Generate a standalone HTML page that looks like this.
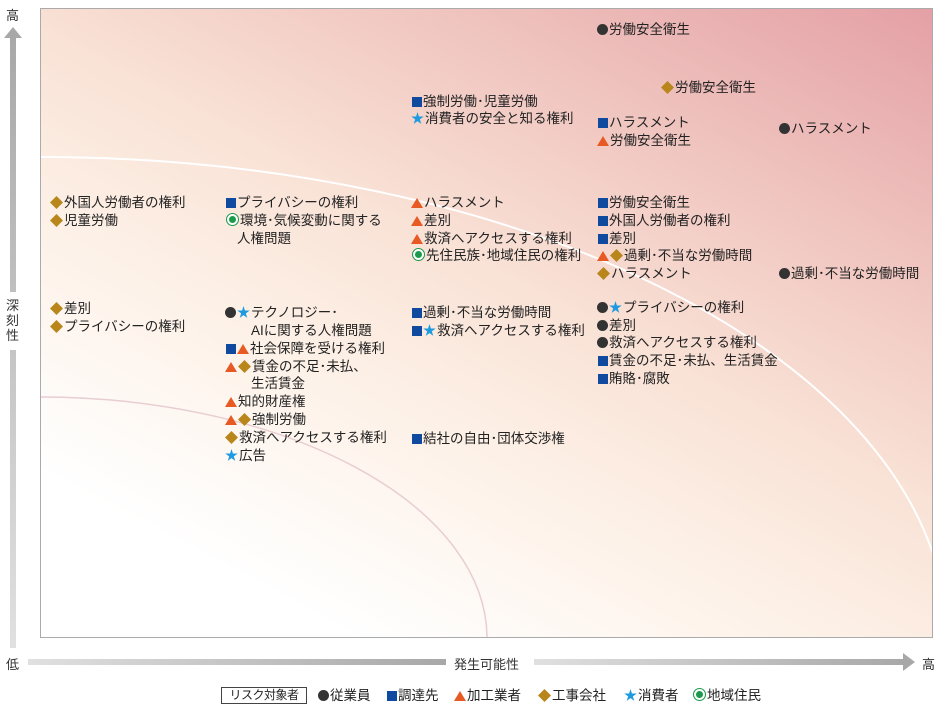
<!DOCTYPE html>
<html style="overflow:hidden;height:709px"><head><meta charset="utf-8"><style>
html,body{overflow:hidden}
body{margin:0;width:940px;height:709px;background:#fff;position:relative;font-family:"Liberation Sans","Noto Sans CJK JP",sans-serif;color:#222}
.t{position:absolute;font-size:13.5px;line-height:17px;white-space:nowrap;letter-spacing:0}
i{display:inline-block;vertical-align:-1px;margin-right:1px;font-style:normal}
.c{width:11px;height:11px;border-radius:50%;background:#333}
.s{width:10px;height:10px;background:#0f4a9e;margin-left:1px}
.r{width:12px;height:10px;background:#e85a24;clip-path:polygon(50% 0,100% 100%,0 100%)}
.d{width:13px;height:13px;background:#b8861b;clip-path:polygon(50% 0,100% 50%,50% 100%,0 50%);vertical-align:-2px}
.g{width:7px;height:7px;border-radius:50%;background:#1a9a4a;border:2px solid #fff;outline:1.5px solid #1a9a4a;margin:0 2px 0 2px;vertical-align:0}
.st{width:13px;height:13px;background:#1e9be0;clip-path:polygon(50% 0,61% 35%,98% 35%,68% 57%,79% 91%,50% 70%,21% 91%,32% 57%,2% 35%,39% 35%);vertical-align:-2px}
.ax{position:absolute;font-size:13px;color:#333}
</style></head><body>
<div style="position:absolute;left:40px;top:8px;width:893px;height:630px;border:1px solid #aaa;box-sizing:border-box;background:linear-gradient(208deg,#e4a0a6 0%,#f0c6c0 25%,#f9e2d6 45%,#fdf1e7 62%,#ffffff 85%)"></div>
<svg style="position:absolute;left:0;top:0;display:block" width="940" height="700">
<defs><linearGradient id="gv" x1="0" y1="1" x2="0" y2="0"><stop offset="0" stop-color="#e0e0e0"/><stop offset="1" stop-color="#a8a8a8"/></linearGradient>
<linearGradient id="gh" x1="0" y1="0" x2="1" y2="0"><stop offset="0" stop-color="#e0e0e0"/><stop offset="1" stop-color="#a8a8a8"/></linearGradient>
<clipPath id="cp"><rect x="41" y="9" width="891" height="628"/></clipPath></defs>
<g clip-path="url(#cp)" fill="none">
<ellipse cx="40" cy="638" rx="907" ry="481" stroke="#fff" stroke-width="2"/>
<ellipse cx="40" cy="638" rx="447" ry="241" stroke="#e8cdd2" stroke-width="1.5"/>
</g>
<rect x="10" y="36" width="6" height="612" fill="url(#gv)"/>
<polygon points="4,38 13,27 22,38" fill="#a8a8a8"/>
<rect x="6" y="292" width="14" height="58" fill="#fff"/>
<rect x="28" y="659" width="418" height="6" fill="url(#gh)"/>
<rect x="534" y="659" width="370" height="6" fill="url(#gh)"/>
<polygon points="903,653 915,662 903,671" fill="#a8a8a8"/>
</svg>
<div class="ax" style="left:6px;top:5px">高</div>
<div class="ax" style="left:6px;top:298px;width:14px;line-height:15px">深<br>刻<br>性</div>
<div class="ax" style="left:6px;top:654px">低</div>
<div class="ax" style="left:454px;top:654px">発生可能性</div>
<div class="ax" style="left:922px;top:654px">高</div>

<div class="t" style="left:597px;top:21px"><i class="c"></i>労働安全衛生</div>
<div class="t" style="left:661px;top:79px"><i class="d"></i>労働安全衛生</div>
<div class="t" style="left:411px;top:93px"><i class="s"></i>強制労働･児童労働</div>
<div class="t" style="left:411px;top:110px"><i class="st"></i>消費者の安全と知る権利</div>
<div class="t" style="left:597px;top:114px"><i class="s"></i>ハラスメント</div>
<div class="t" style="left:597px;top:132px"><i class="r"></i>労働安全衛生</div>
<div class="t" style="left:779px;top:120px"><i class="c"></i>ハラスメント</div>

<div class="t" style="left:50px;top:194px"><i class="d"></i>外国人労働者の権利</div>
<div class="t" style="left:50px;top:212px"><i class="d"></i>児童労働</div>
<div class="t" style="left:50px;top:300px"><i class="d"></i>差別</div>
<div class="t" style="left:50px;top:318px"><i class="d"></i>プライバシーの権利</div>

<div class="t" style="left:225px;top:194px"><i class="s"></i>プライバシーの権利</div>
<div class="t" style="left:225px;top:212px"><i class="g"></i>環境･気候変動に関する</div>
<div class="t" style="left:237px;top:230px">人権問題</div>
<div class="t" style="left:225px;top:304px"><i class="c"></i><i class="st"></i>テクノロジー･</div>
<div class="t" style="left:251px;top:322px">AIに関する人権問題</div>
<div class="t" style="left:225px;top:340px"><i class="s"></i><i class="r"></i>社会保障を受ける権利</div>
<div class="t" style="left:225px;top:358px"><i class="r"></i><i class="d"></i>賃金の不足･未払、</div>
<div class="t" style="left:251px;top:375px">生活賃金</div>
<div class="t" style="left:225px;top:393px"><i class="r"></i>知的財産権</div>
<div class="t" style="left:225px;top:411px"><i class="r"></i><i class="d"></i>強制労働</div>
<div class="t" style="left:225px;top:429px"><i class="d"></i>救済へアクセスする権利</div>
<div class="t" style="left:225px;top:447px"><i class="st"></i>広告</div>

<div class="t" style="left:411px;top:194px"><i class="r"></i>ハラスメント</div>
<div class="t" style="left:411px;top:212px"><i class="r"></i>差別</div>
<div class="t" style="left:411px;top:230px"><i class="r"></i>救済へアクセスする権利</div>
<div class="t" style="left:411px;top:247px"><i class="g"></i>先住民族･地域住民の権利</div>
<div class="t" style="left:411px;top:304px"><i class="s"></i>過剰･不当な労働時間</div>
<div class="t" style="left:411px;top:322px"><i class="s"></i><i class="st"></i>救済へアクセスする権利</div>
<div class="t" style="left:411px;top:430px"><i class="s"></i>結社の自由･団体交渉権</div>

<div class="t" style="left:597px;top:194px"><i class="s"></i>労働安全衛生</div>
<div class="t" style="left:597px;top:212px"><i class="s"></i>外国人労働者の権利</div>
<div class="t" style="left:597px;top:230px"><i class="s"></i>差別</div>
<div class="t" style="left:597px;top:247px"><i class="r"></i><i class="d"></i>過剰･不当な労働時間</div>
<div class="t" style="left:597px;top:265px"><i class="d"></i>ハラスメント</div>
<div class="t" style="left:779px;top:265px"><i class="c"></i>過剰･不当な労働時間</div>
<div class="t" style="left:597px;top:299px"><i class="c"></i><i class="st"></i>プライバシーの権利</div>
<div class="t" style="left:597px;top:317px"><i class="c"></i>差別</div>
<div class="t" style="left:597px;top:334px"><i class="c"></i>救済へアクセスする権利</div>
<div class="t" style="left:597px;top:352px"><i class="s"></i>賃金の不足･未払、生活賃金</div>
<div class="t" style="left:597px;top:370px"><i class="s"></i>賄賂･腐敗</div>

<div style="position:absolute;left:221px;top:687px;width:86px;height:17px;border:1px solid #444;box-sizing:border-box;font-size:12px;line-height:15px;text-align:center;letter-spacing:-0.5px">リスク対象者</div>
<div class="t" style="left:318px;top:687px"><i class="c"></i>従業員</div>
<div class="t" style="left:386px;top:687px"><i class="s"></i>調達先</div>
<div class="t" style="left:454px;top:687px"><i class="r"></i>加工業者</div>
<div class="t" style="left:538px;top:687px"><i class="d"></i>工事会社</div>
<div class="t" style="left:624px;top:687px"><i class="st"></i>消費者</div>
<div class="t" style="left:692px;top:687px"><i class="g"></i>地域住民</div>
</body></html>
